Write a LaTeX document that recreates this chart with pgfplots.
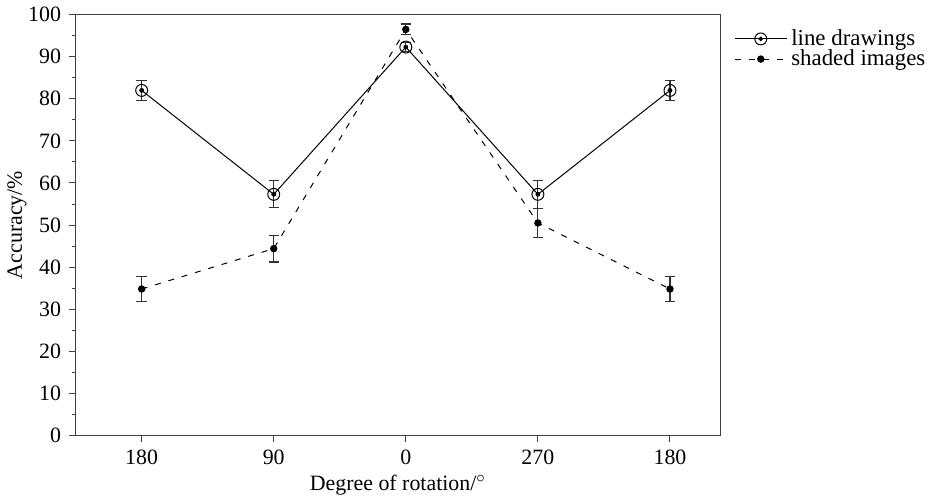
\documentclass[border=0pt]{standalone}
\usepackage{pgfplots}
\pgfplotsset{compat=1.18}
\usepackage{fontspec}
\setmainfont{Liberation Serif}
\pgfplotsset{
  legA/.style={legend image code/.code={\draw[mark repeat=2,mark phase=2,##1] plot coordinates {(0cm,0cm) (0.46cm,0cm) (0.92cm,0cm)};
    \fill[black] (0.46cm,0cm) circle (0.9pt);}},
  legB/.style={legend image code/.code={\draw[mark repeat=2,mark phase=2,##1] plot coordinates {(0cm,0cm) (0.46cm,0cm) (0.92cm,0cm)};}},
}
\begin{document}
\fontsize{11}{13}\selectfont
\begin{tikzpicture}[x=1pt,y=1pt]
\begin{axis}[
  scale only axis,
  width=324pt, height=211.5pt,
  xmin=-0.5, xmax=4.38, ymin=0, ymax=100,
  xtick={0,1,2,3,4},
  xticklabels={180,90,0,270,180},
  ytick={0,10,...,100},
  minor y tick num=1,
  tick align=outside,
  xtick pos=bottom, ytick pos=left,
  major tick length=3.5pt, minor tick length=2pt,
  /pgf/number format/assume math mode=true,
  tick label style={font=\rmfamily\fontsize{11}{13}\selectfont},
  label style={font=\rmfamily\fontsize{11}{13}\selectfont},
  axis line style={black!75, line width=0.6pt},
  tick style={black!75, line width=0.5pt},
  xlabel={Degree of rotation/$^\circ$},
  ylabel={Accuracy/\%},
  every axis x label/.style={at={([yshift=-25pt]rel axis cs:0.5,0)}, anchor=center},
  every axis y label/.style={at={([xshift=-29.5pt]rel axis cs:0,0.5)}, rotate=90, anchor=center},
  legend style={draw=none, fill=none, at={(1.012,0.985)}, anchor=north west,
    font=\rmfamily\fontsize{11.5}{12}\selectfont, row sep=-3.5pt},
  legend cell align=left,
  clip=false,
]
\addplot[black, line width=0.5pt, mark=o, mark size=3pt, legA,
  error bars/.cd, y dir=both, y explicit,
  error bar style={black!80, line width=0.6pt},
  error mark options={rotate=90, mark size=2.6pt, black!80, line width=0.6pt}]
  coordinates {
  (0,82) +- (0,2.4)
  (1,57.3) +- (0,3.2)
  (2,92.3) +- (0,1.0)
  (3,57.3) +- (0,3.3)
  (4,82) +- (0,2.4)
};
\addlegendentry{line drawings}
\addplot[black, only marks, mark=*, mark size=1pt, forget plot]
  coordinates {(0,82) (1,57.3) (2,92.3) (3,57.3) (4,82)};
\addplot[black, line width=0.5pt, dash pattern=on 3pt off 4pt, mark=*, mark size=1.6pt,
  mark options={solid}, legB,
  error bars/.cd, y dir=both, y explicit,
  error bar style={black!80, line width=0.6pt, solid},
  error mark options={rotate=90, mark size=2.6pt, black!80, line width=0.6pt, solid}]
  coordinates {
  (0,34.8) +- (0,3.0)
  (1,44.4) +- (0,3.2)
  (2,96.5) +- (0,1.3)
  (3,50.5) +- (0,3.5)
  (4,34.8) +- (0,3.0)
};
\addlegendentry{shaded images}
\end{axis}
\path ([shift={(-35.5pt,-32pt)}]current axis.south west) rectangle ([shift={(434.5pt,218.5pt)}]current axis.south west);
\end{tikzpicture}
\end{document}
